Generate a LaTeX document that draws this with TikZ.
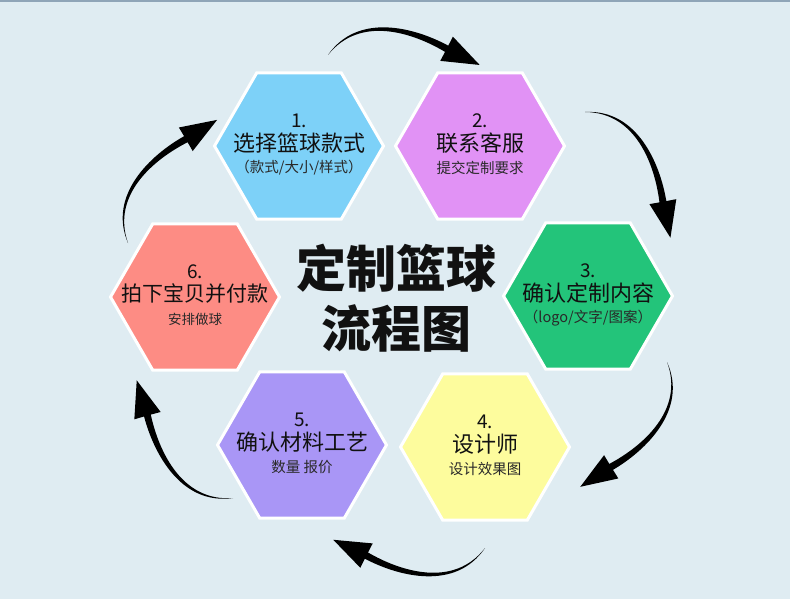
\documentclass[tikz,border=0pt]{standalone}
\usepackage{fontspec}
\setmainfont{Noto Sans CJK SC}
\usetikzlibrary{shapes.geometric}
\definecolor{bgc}{HTML}{DFECF2}
\definecolor{bandc}{HTML}{8FA5B8}
\definecolor{cone}{HTML}{7DD1F8}
\definecolor{ctwo}{HTML}{E192F5}
\definecolor{cthree}{HTML}{23C47A}
\definecolor{cfour}{HTML}{FDFC9D}
\definecolor{cfive}{HTML}{A996F6}
\definecolor{csix}{HTML}{FD8C84}
\definecolor{txt}{HTML}{111111}
\tikzset{
  hexa/.style={regular polygon, regular polygon sides=6, minimum size=169pt, inner sep=0pt, draw=white, line width=3pt},
  numtxt/.style={font=\fontsize{19}{20}\selectfont, text=txt, inner sep=0pt},
  maintxt/.style={font=\fontsize{22}{24}\selectfont, text=txt, inner sep=0pt},
  subtxt/.style={font=\fontsize{14.5}{16}\selectfont, text=txt!90, inner sep=0pt},
  brusharrow/.pic={
    \fill[black] (0,0) .. controls (27,45) and (85,33) .. (119.4,17.2)
      -- (123.4,26.5) -- (152,0) -- (112.4,1.5) -- (116.6,10.8)
      .. controls (83,28) and (29,42) .. (0,0) -- cycle;
  }
}
\begin{document}
\begin{tikzpicture}[x=1pt,y=1pt]
\useasboundingbox (0,0) rectangle (790,-599);
\fill[bgc] (0,0) rectangle (790,-599);
\fill[bandc] (0,0) rectangle (790,-2.5);

% hexagons
\node[hexa, fill=cone]   (h1) at (299,-146) {};
\node[hexa, fill=ctwo]   (h2) at (480,-146) {};
\node[hexa, fill=cthree] (h3) at (588,-296) {};
\node[hexa, fill=cfour]  (h4) at (485,-447) {};
\node[hexa, fill=cfive]  (h5) at (302,-445) {};
\node[hexa, fill=csix]   (h6) at (195,-297) {};

% texts
\node[numtxt]  (h1n) at ([yshift=25pt]h1.center) {1.};
\node[maintxt] (h1m) at ([yshift=3pt]h1.center) {选择篮球款式};
\node[subtxt]  (h1s) at ([yshift=-22pt]h1.center) {（款式/大小/样式）};

\node[numtxt]  (h2n) at ([yshift=25pt]h2.center) {2.};
\node[maintxt] (h2m) at ([yshift=3pt]h2.center) {联系客服};
\node[subtxt]  (h2s) at ([yshift=-22pt]h2.center) {提交定制要求};

\node[numtxt]  (h3n) at ([yshift=25pt]h3.center) {3.};
\node[maintxt] (h3m) at ([yshift=3pt]h3.center) {确认定制内容};
\node[subtxt]  (h3s) at ([yshift=-22pt]h3.center) {（logo/文字/图案）};

\node[numtxt]  (h4n) at ([yshift=25pt]h4.center) {4.};
\node[maintxt] (h4m) at ([yshift=3pt]h4.center) {设计师};
\node[subtxt]  (h4s) at ([yshift=-22pt]h4.center) {设计效果图};

\node[numtxt]  (h5n) at ([yshift=25pt]h5.center) {5.};
\node[maintxt] (h5m) at ([yshift=3pt]h5.center) {确认材料工艺};
\node[subtxt]  (h5s) at ([yshift=-22pt]h5.center) {数量 报价};

\node[numtxt]  (h6n) at ([yshift=25pt]h6.center) {6.};
\node[maintxt, font=\fontsize{21}{23}\selectfont] (h6m) at ([yshift=3pt]h6.center) {拍下宝贝并付款};
\node[subtxt, font=\fontsize{13.5}{15}\selectfont]  (h6s) at ([yshift=-22pt]h6.center) {安排做球};

% title
\node[font=\fontsize{50}{60}\selectfont\bfseries, text=txt, align=center, inner sep=0pt] (title) at (396,-298) {定制篮球\\流程图};

% arrows
\coordinate (a1) at (328,-55);
\coordinate (a2) at (585,-112);
\coordinate (a3) at (667,-362);
\coordinate (a4) at (485,-548);
\coordinate (a5) at (233,-498);
\coordinate (a6) at (128,-243);
\pic[rotate=-3.76] at (a1) {brusharrow};
\pic[rotate=-55.8] at (a2) {brusharrow};
\pic[rotate=-124.8] at (a3) {brusharrow};
\pic[rotate=176.9] at (a4) {brusharrow};
\pic[rotate=129.3] at (a5) {brusharrow};
\pic[rotate=54.1] at (a6) {brusharrow};
\end{tikzpicture}
\end{document}
